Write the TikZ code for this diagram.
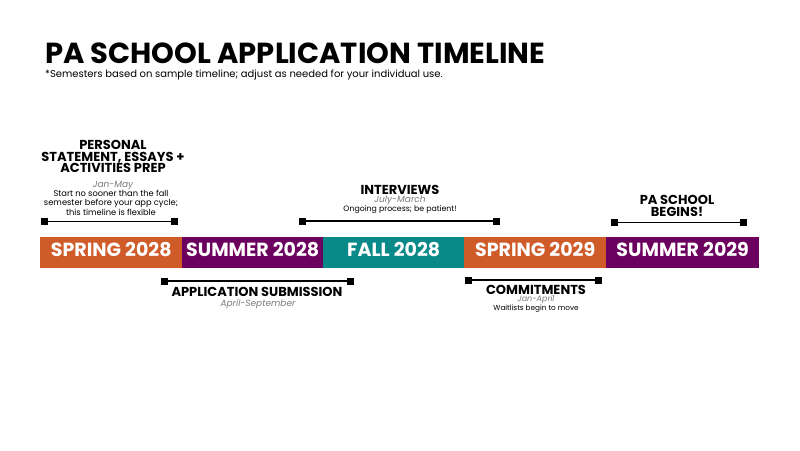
\documentclass[tikz,border=0pt]{standalone}
\usepackage{fontspec}
\setmainfont{Poppins}
\usetikzlibrary{arrows.meta}
\definecolor{springorange}{HTML}{CF5B29}
\definecolor{summerpurple}{HTML}{6C005E}
\definecolor{fallteal}{HTML}{098A88}
\definecolor{notegray}{HTML}{7A7A7A}
\tikzset{
	semester/.style={fill=#1, text=white, anchor=west, inner sep=0pt, minimum height=31pt,
		font=\bfseries\fontsize{19}{19}\selectfont, text height=13.4pt, text depth=5pt},
	span/.style={line width=1.5pt, {Square[length=7pt,width=7pt]}-{Square[length=7pt,width=7pt]}},
	heading/.style={anchor=base, align=center, inner sep=0pt, font=\bfseries\fontsize{13}{11.7}\selectfont},
	when/.style={anchor=base, inner sep=0pt, text=notegray, font=\itshape\fontsize{9}{9}\selectfont},
	note/.style={anchor=base, align=center, inner sep=0pt, font=\fontsize{#1}{9.2}\selectfont},
	note/.default=8.3,
}
\begin{document}
\begin{tikzpicture}[x=1pt, y=-1pt]
	\useasboundingbox (0, 0) rectangle (800, 450);
	\node[anchor=base west, inner sep=0pt, font=\bfseries\fontsize{29}{29}\selectfont] (title) at (45, 63) {PA SCHOOL APPLICATION TIMELINE};
	\node[anchor=base west, inner sep=0pt, font=\fontsize{10}{10}\selectfont] (sub) at (45, 77.5) {*Semesters based on sample timeline; adjust as needed for your individual use.};
	% the semester bar
	\node[semester=springorange, minimum width=142pt] (spr28) at (40, 252.5) {SPRING 2028};
	\node[semester=summerpurple, minimum width=141pt] (sum28) at (182, 252.5) {SUMMER 2028};
	\node[semester=fallteal, minimum width=141pt] (fall28) at (323, 252.5) {FALL 2028};
	\node[semester=springorange, minimum width=142pt] (spr29) at (464, 252.5) {SPRING 2029};
	\node[semester=summerpurple, minimum width=153pt] (sum29) at (606, 252.5) {SUMMER 2029};
	% spans above the bar
	\coordinate (prepL) at (41, 221.5);
	\coordinate (prepR) at (178, 221.5);
	\draw[span] (prepL) -- (prepR);
	\node[heading] (prep) at (113, 172.7) {PERSONAL\\STATEMENT, ESSAYS +\\ACTIVITIES PREP};
	\node[when] (prepwhen) at (113, 187) {Jan-May};
	\node[note] (prepnote) at (111, 215) {Start no sooner than the fall\\semester before your app cycle;\\this timeline is flexible};
	\coordinate (intL) at (299, 221);
	\coordinate (intR) at (500, 221);
	\draw[span] (intL) -- (intR);
	\node[heading] (int) at (400, 194) {INTERVIEWS};
	\node[when] (intwhen) at (400, 202) {July-March};
	\node[note=7.8] (intnote) at (400, 211.7) {Ongoing process; be patient!};
	\coordinate (beginL) at (611, 222.5);
	\coordinate (beginR) at (747, 222.5);
	\draw[span] (beginL) -- (beginR);
	\node[heading, font=\bfseries\fontsize{13}{12.4}\selectfont] (begin) at (677, 216.7) {PA SCHOOL\\BEGINS!};
	% spans below the bar
	\coordinate (appL) at (161, 281);
	\coordinate (appR) at (354, 281);
	\draw[span] (appL) -- (appR);
	\node[heading] (app) at (257, 296) {APPLICATION SUBMISSION};
	\node[when] (appwhen) at (258, 306.7) {April-September};
	\coordinate (comL) at (465, 280);
	\coordinate (comR) at (602, 280);
	\draw[span] (comL) -- (comR);
	\node[heading] (com) at (536, 294.3) {COMMITMENTS};
	\node[when, font=\itshape\fontsize{8}{8}\selectfont] (comwhen) at (536, 301.5) {Jan-April};
	\node[note=7.3] (comnote) at (536, 310.5) {Waitlists begin to move};
\end{tikzpicture}
\end{document}
